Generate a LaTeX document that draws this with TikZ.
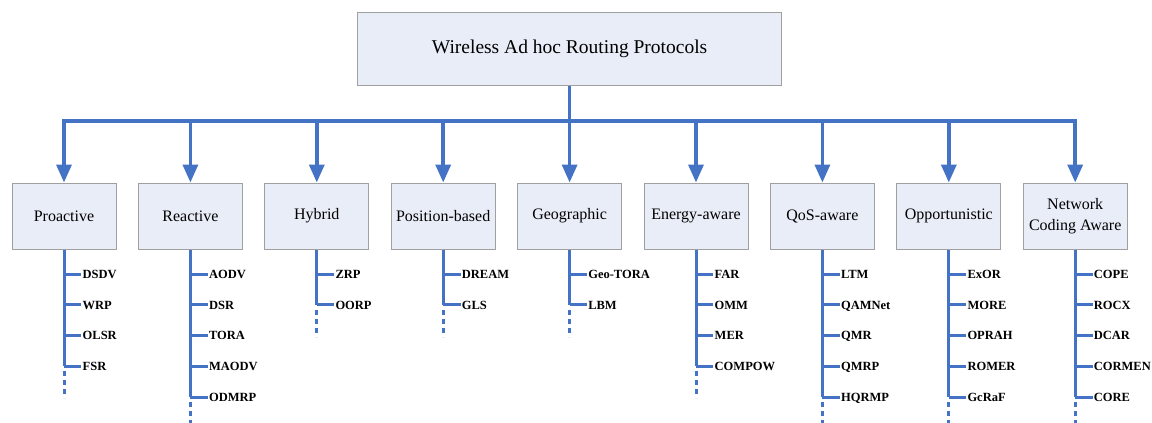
\documentclass[tikz,border=0pt]{standalone}
\usepackage{fontspec}
\setmainfont{Liberation Serif}
\usetikzlibrary{arrows.meta}
\definecolor{linkblue}{HTML}{4472C4}
\definecolor{boxfill}{HTML}{E9EDF8}
\definecolor{boxedge}{HTML}{A0A0A0}

% one column of protocol names hanging below a category box
\newcommand\leafcolumn[2]{%
  \foreach \lab [count=\k] in {#2} {
    \pgfmathsetmacro\dy{24.5+30.8*(\k-1)}
    \node[leaf] (#1-\k) at ([xshift=18.5pt,yshift=-\dy pt]#1.south) {\lab};
    \draw[spine] (#1.south |- #1-\k.west) -- ([xshift=-1.2pt]#1-\k.west);
    \xdef\lastleaf{\k}
  }
  \draw[spine] (#1.south) -- (#1.south |- #1-\lastleaf.west);
  \path (#1.south |- #1-\lastleaf.west) ++(0,5) coordinate (#1-dotA)
        ++(0,27) coordinate (#1-dotB);
  \draw[more] (#1-dotA) -- (#1-dotB);
}

\begin{document}
\begin{tikzpicture}[x=1pt,y=-1pt,
  box/.style={draw=boxedge, line width=1pt, fill=boxfill, rectangle, inner sep=2pt},
  rootbox/.style={box, minimum width=424pt, minimum height=73pt,
    font=\fontsize{19.5}{23}\selectfont},
  catbox/.style={box, minimum width=104pt, minimum height=66pt, align=center,
    font=\fontsize{16}{21}\selectfont},
  leaf/.style={anchor=west, inner sep=0pt, text height=8.5pt, text depth=0pt,
    font=\fontsize{12.5}{15}\bfseries\selectfont},
  trunk/.style={draw=linkblue, line width=3.5pt},
  feed/.style={trunk, -{Triangle[width=15pt,length=18pt]}},
  spine/.style={draw=linkblue, line width=3pt},
  more/.style={spine, dash pattern=on 5pt off 4pt}
]
\useasboundingbox[fill=white] (0,0) rectangle (1152,423);

% root and categories
\node[rootbox] (root) at (569.6,48.5) {Wireless Ad hoc Routing Protocols};
\node[catbox] (pro) at (64,216)    {Proactive};
\node[catbox] (rea) at (190.4,216) {Reactive};
\node[catbox] (hyb) at (316.8,216) {Hybrid};
\node[catbox] (pos) at (443.2,216) {Position-based};
\node[catbox] (geo) at (569.6,216) {Geographic};
\node[catbox] (ene) at (696,216)   {Energy-aware};
\node[catbox] (qos) at (822.4,216) {QoS-aware};
\node[catbox] (opp) at (948.8,216) {Opportunistic};
\node[catbox] (ncd) at (1075.2,216) {Network\\Coding Aware};

% distribution bar and arrows
\coordinate (bar) at (569.6,121);
\draw[trunk] (root.south) -- (root.south |- bar);
\draw[trunk, line cap=rect] (pro.north |- bar) -- (ncd.north |- bar);
\foreach \c in {pro,rea,hyb,pos,geo,ene,qos,opp,ncd}
  \draw[feed] (\c.north |- bar) -- (\c.north);

% protocol lists
\leafcolumn{pro}{DSDV,WRP,OLSR,FSR}
\leafcolumn{rea}{AODV,DSR,TORA,MAODV,ODMRP}
\leafcolumn{hyb}{ZRP,OORP}
\leafcolumn{pos}{DREAM,GLS}
\leafcolumn{geo}{Geo-TORA,LBM}
\leafcolumn{ene}{FAR,OMM,MER,COMPOW}
\leafcolumn{qos}{LTM,QAMNet,QMR,QMRP,HQRMP}
\leafcolumn{opp}{ExOR,MORE,OPRAH,ROMER,GcRaF}
\leafcolumn{ncd}{COPE,ROCX,DCAR,CORMEN,CORE}
\end{tikzpicture}
\end{document}
